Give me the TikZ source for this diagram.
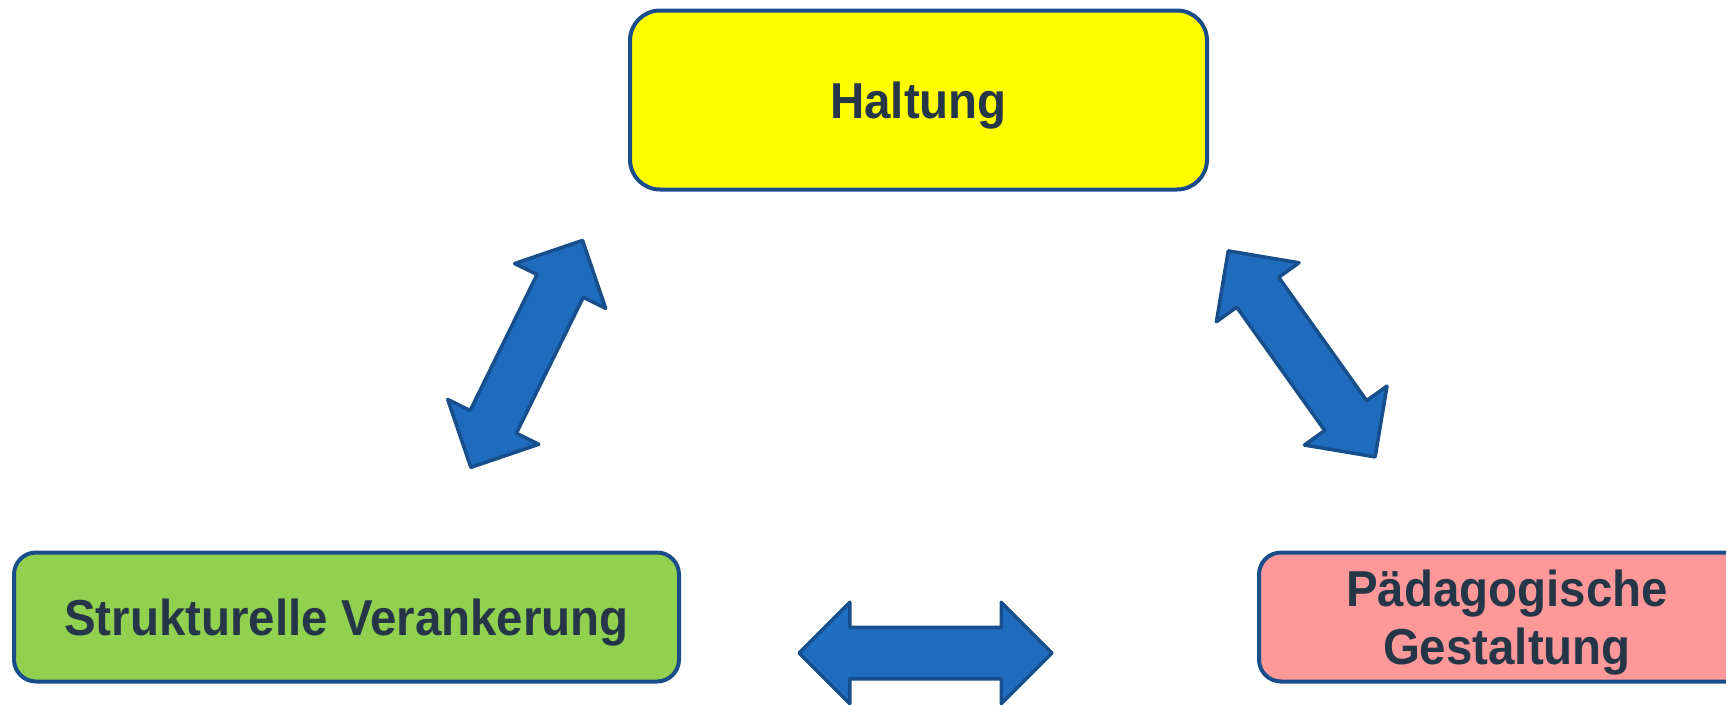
\documentclass[tikz,border=0pt]{standalone}
\usepackage{fontspec}
\setmainfont{Liberation Sans}[FakeStretch=0.94]
\usetikzlibrary{shapes.arrows}

\definecolor{boxline}{HTML}{1A4E8A}
\definecolor{arrowfill}{HTML}{1F6BBD}
\definecolor{arrowline}{HTML}{164F8B}
\definecolor{textblue}{HTML}{243648}
\definecolor{haltungyellow}{HTML}{FFFF00}
\definecolor{strukturgreen}{HTML}{92D050}
\definecolor{gestaltpink}{HTML}{FF9999}

\tikzset{
  pillar/.style={draw=boxline, line width=4pt, rounded corners=22pt, text=textblue,
    font=\bfseries\fontsize{50.5}{58}\selectfont, align=center, inner sep=0pt},
  oneline/.style={text height=36pt, text depth=0pt},
  link/.style={double arrow, draw=arrowline, fill=arrowfill, line width=3.5pt, line join=round,
    minimum height=253pt, minimum width=98pt, double arrow head extend=25pt,
    double arrow tip angle=90, inner xsep=0pt, inner ysep=24pt},
}

\begin{document}
\begin{tikzpicture}[x=1pt, y=-1pt]
\useasboundingbox (0,0) rectangle (1726,704);

\node[pillar, oneline, fill=haltungyellow, rounded corners=30pt, minimum width=577pt, minimum height=179pt] (haltung) at (918.5,100) {Haltung};
\node[pillar, oneline, fill=strukturgreen, minimum width=665pt, minimum height=129pt] (struktur) at (346.5,617) {Strukturelle Verankerung};
\node[pillar, fill=gestaltpink, text height=94pt, text depth=0pt, minimum width=496pt, minimum height=129pt] (gestalt) at (1507,617) {Pädagogische\\Gestaltung};

% block arrows between the three pillars
\node[link, rotate=63.8] (haltung-struktur) at (526.7,353.9) {};
\node[link, rotate=-54.5] (haltung-gestalt) at (1301.7,353.9) {};
\node[link] (struktur-gestalt) at (925.5,653) {};
\end{tikzpicture}
\end{document}
